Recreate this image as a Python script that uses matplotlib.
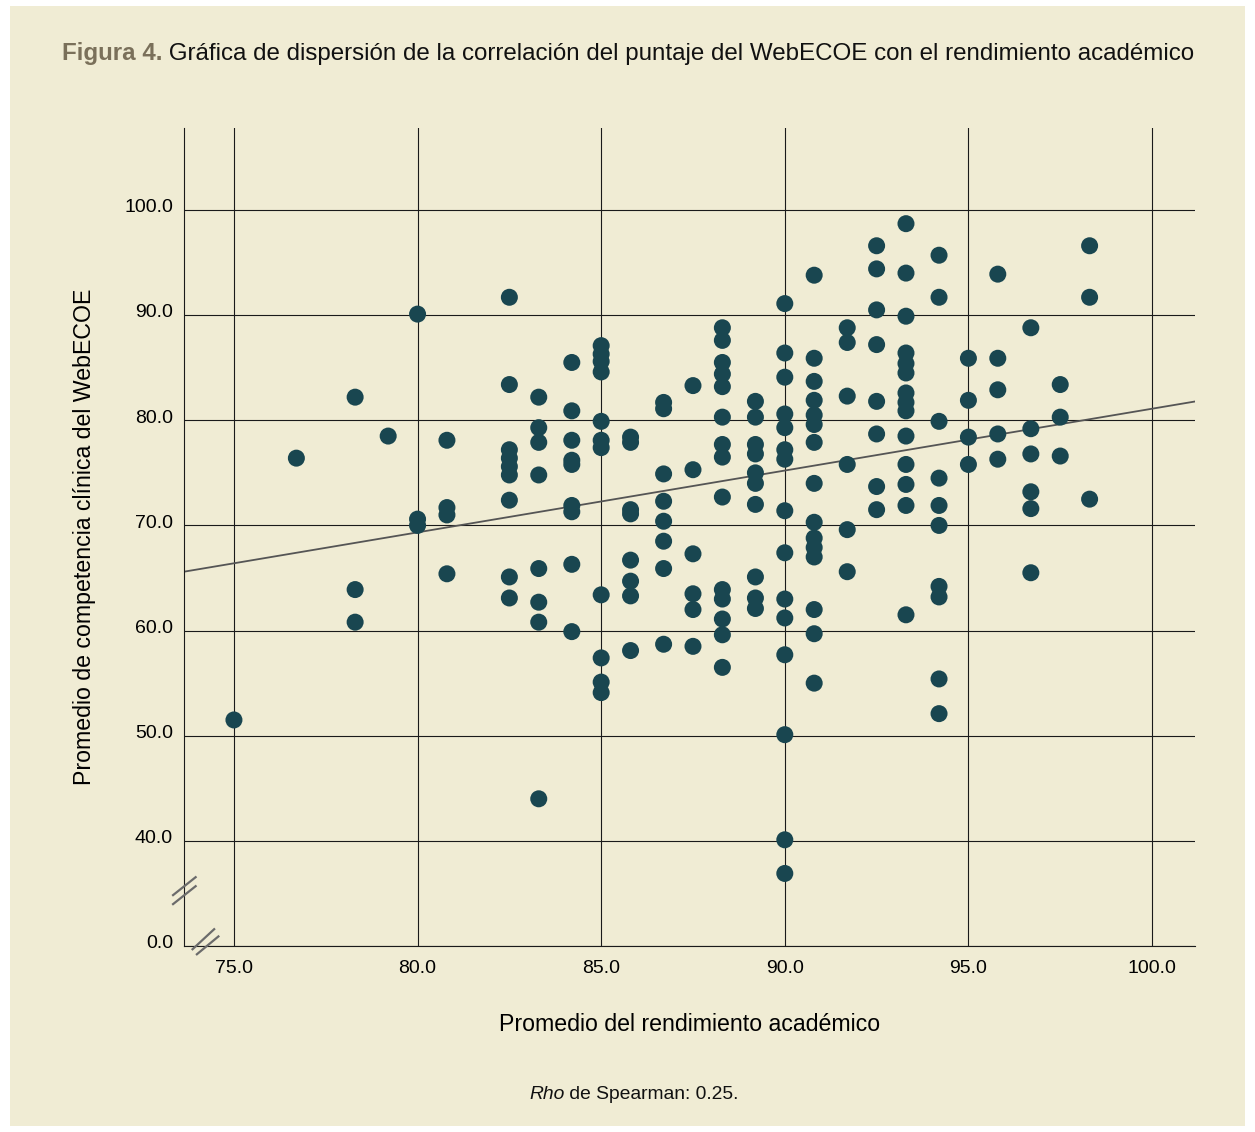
import numpy as np
import matplotlib.pyplot as plt
from matplotlib.path import Path
from matplotlib.patches import Rectangle
from matplotlib import transforms

plt.rcParams['font.family'] = ['Liberation Sans', 'DejaVu Sans']

# Promedio del rendimiento académico (columnas de puntos)
rendimiento = [75.0, 76.7, 78.3, 79.2, 80.0, 80.8, 82.5, 83.3, 84.2, 85.0,
               85.8, 86.7, 87.5, 88.3, 89.2, 90.0, 90.8, 91.7, 92.5, 93.3,
               94.2, 95.0, 95.8, 96.7, 97.5, 98.3]

# Promedio WebECOE para cada columna
webecoe = [
    [51.5],
    [76.4],
    [82.2, 63.9, 60.8],
    [78.5],
    [90.1, 70.6, 70.0],
    [78.1, 71.7, 71.0, 65.4],
    [91.7, 83.4, 77.2, 76.4, 75.6, 74.8, 72.4, 65.1, 63.1],
    [82.2, 79.3, 77.9, 74.8, 65.9, 62.7, 60.8, 44.0],
    [85.5, 80.9, 78.1, 76.2, 75.8, 71.9, 71.3, 66.3, 59.9],
    [87.1, 86.3, 85.6, 84.6, 79.9, 78.1, 77.4, 63.4, 57.4, 55.1, 54.1],
    [78.4, 77.9, 71.5, 71.1, 66.7, 64.7, 63.3, 58.1],
    [81.7, 81.1, 74.9, 72.3, 70.4, 68.5, 65.9, 58.7],
    [83.3, 75.3, 67.3, 63.5, 62.0, 58.5],
    [88.8, 87.6, 85.5, 84.4, 83.2, 80.3, 77.7, 76.5, 72.7, 63.9, 63.0, 61.1, 59.6, 56.5],
    [81.8, 80.3, 77.7, 76.8, 75.0, 74.0, 72.0, 65.1, 63.1, 62.1],
    [91.1, 86.4, 84.1, 80.6, 79.3, 77.2, 76.3, 71.4, 67.4, 63.0, 61.2, 57.7, 50.1, 40.1, 36.9],
    [93.8, 85.9, 83.7, 81.9, 80.5, 79.6, 77.9, 74.0, 70.3, 68.8, 67.9, 67.0, 62.0, 59.7, 55.0],
    [88.8, 87.4, 82.3, 75.8, 69.6, 65.6],
    [96.6, 94.4, 90.5, 87.2, 81.8, 78.7, 73.7, 71.5],
    [98.7, 94.0, 89.9, 86.4, 85.4, 84.5, 82.6, 81.7, 80.9, 78.5, 75.8, 73.9, 71.9, 61.5],
    [95.7, 91.7, 79.9, 74.5, 71.9, 70.0, 64.2, 63.2, 55.4, 52.1],
    [85.9, 81.9, 78.4, 75.8],
    [93.9, 85.9, 82.9, 78.7, 76.3],
    [88.8, 79.2, 76.8, 73.2, 71.6, 65.5],
    [83.4, 80.3, 76.6],
    [96.6, 91.7, 72.5],
]

# recta de tendencia
pendiente = 0.588
intercepto = 22.3

x_ticks = [75, 80, 85, 90, 95, 100]
x_tick_labels = ["75.0", "80.0", "85.0", "90.0", "95.0", "100.0"]
# 30 en el eje representa el 0.0 despues del corte
y_ticks = [30, 40, 50, 60, 70, 80, 90, 100]
y_tick_labels = ["0.0", "40.0", "50.0", "60.0", "70.0", "80.0", "90.0", "100.0"]

fondo = "#f0ecd4"
punto = "#194650"

x = np.concatenate([[r] * len(v) for r, v in zip(rendimiento, webecoe)])
y = np.concatenate(webecoe)

fig = plt.figure(figsize=(12.55, 11.32), dpi=100)
fig.patch.set_facecolor("white")
fig.patches.append(Rectangle((10 / 1255, 6 / 1132), 1235 / 1255, 1120 / 1132,
                             transform=fig.transFigure, facecolor=fondo,
                             edgecolor="none", zorder=-10))

ax = fig.add_axes([184 / 1255, 1 - 946 / 1132, 1011 / 1255, 818 / 1132])
ax.set_facecolor("none")

ax.scatter(x, y, s=150, color=punto, edgecolors="none", zorder=3)
ax.axline((0, intercepto), slope=pendiente, color="#555555", lw=1.3, zorder=2)

ax.set_xlim(73.64, 101.17)
ax.set_ylim(30, 107.8)
ax.set_xticks(x_ticks)
ax.set_xticklabels(x_tick_labels)
ax.set_yticks(y_ticks)
ax.set_yticklabels(y_tick_labels)
ax.tick_params(length=0, labelsize=14, pad=8)
ax.tick_params(axis="x", pad=10)
# etiquetas del eje y un poco por encima de la linea
subir = transforms.ScaledTranslation(0, 3 / 72, fig.dpi_scale_trans)
for lbl in ax.get_yticklabels():
    lbl.set_transform(lbl.get_transform() + subir)
ax.grid(True, color="#1a1a1a", lw=0.8)
ax.set_axisbelow(True)
for s in ["top", "right"]:
    ax.spines[s].set_visible(False)
for s in ["left", "bottom"]:
    ax.spines[s].set_color("#1a1a1a")
    ax.spines[s].set_linewidth(0.8)

ax.set_xlabel("Promedio del rendimiento académico", fontsize=16.7, labelpad=26)
ax.set_ylabel("Promedio de competencia clínica del WebECOE", fontsize=16.7, labelpad=20)

# marcas de corte //
corte_y = Path([(-12.3, -5.3), (12, 14), (-12.3, -14.3), (12, 5)],
               [Path.MOVETO, Path.LINETO, Path.MOVETO, Path.LINETO])
corte_x = Path([(-13.8, -3.5), (9.5, 18.1), (-9.5, -8.5), (13.8, 10.8)],
               [Path.MOVETO, Path.LINETO, Path.MOVETO, Path.LINETO])
trans_y = transforms.blended_transform_factory(ax.transAxes, ax.transData)
ax.plot([0], [35.3], transform=trans_y, marker=corte_y, ms=20.6, mfc="none",
        mec="#6b6b6b", mew=1.6, ls="none", clip_on=False, zorder=4)
ax.plot([74.2], [30], marker=corte_x, ms=26, mfc="none",
        mec="#6b6b6b", mew=1.6, ls="none", clip_on=False, zorder=4)

# titulo
t1 = fig.text(62 / 1255, 1 - 60 / 1132, "Figura 4.", fontsize=17.4, fontweight="bold",
              color="#7a705a", va="baseline")
fig.canvas.draw()
bb = t1.get_window_extent()
fig.text(bb.x1 / 1255, 1 - 60 / 1132,
         " Gráfica de dispersión de la correlación del puntaje del WebECOE con el rendimiento académico",
         fontsize=17.4, color="#111111", va="baseline")

# pie
r1 = fig.text(529 / 1255, 1 - 1099 / 1132, "Rho", fontsize=13.9, style="italic",
              color="#111111", va="baseline")
fig.canvas.draw()
bb = r1.get_window_extent()
fig.text(bb.x1 / 1255, 1 - 1099 / 1132, " de Spearman: 0.25.", fontsize=13.9,
         color="#111111", va="baseline")

fig.savefig("out.png", dpi=100, facecolor="white")
